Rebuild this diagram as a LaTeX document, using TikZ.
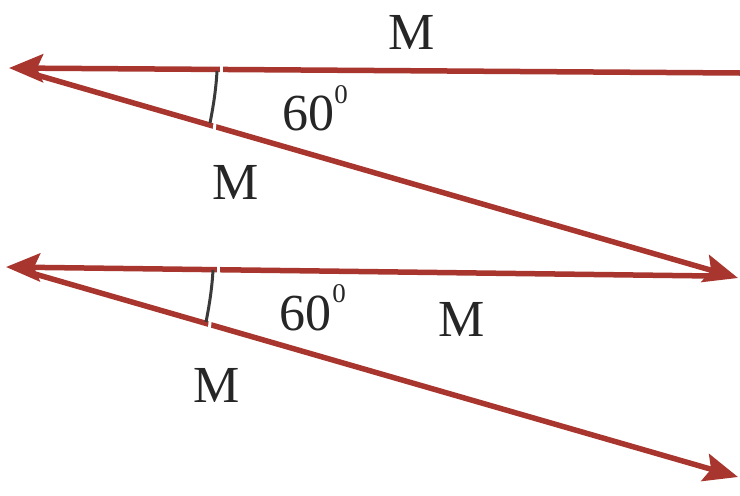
\documentclass[tikz,border=0pt]{standalone}
\usepackage{fontspec}
\setmainfont{Liberation Serif}
\usetikzlibrary{arrows.meta}
\definecolor{vec}{HTML}{A8362E}
\definecolor{arcc}{HTML}{3A3A3A}
\tikzset{
  vecline/.style={draw=vec,line width=5.5pt,-{Stealth[length=34pt,width=28pt,inset=6pt]}},
  anglearc/.style={draw=arcc,line width=3pt},
  lab/.style={font=\fontsize{52}{52}\selectfont,text=black!85,inner sep=0pt},
  sup/.style={font=\fontsize{27}{27}\selectfont,text=black!85,inner sep=0pt}
}
\begin{document}
\begin{tikzpicture}[x=1pt,y=-1pt]
\useasboundingbox (0,0) rectangle (740,496);
% coordinates
\coordinate (r1) at (740,73);
\coordinate (t1) at (9,68);
\coordinate (s1) at (30,73);
\coordinate (h1) at (738,278);
\coordinate (r2) at (712,276);
\coordinate (t2) at (6,267);
\coordinate (s2) at (28,272);
\coordinate (h2) at (738,477);
% vectors
\draw[vecline] (r1) -- (t1);
\draw[vecline] (s1) -- (h1);
\draw[vecline] (r2) -- (t2);
\draw[vecline] (s2) -- (h2);
% gaps near arcs
\draw[white,line width=3pt] (221,64) -- (221,82);
\draw[white,line width=3pt] (216,114) -- (214,132);
\draw[white,line width=3pt] (218,264) -- (218,284);
\draw[white,line width=3pt] (211,313) -- (209,332);
% angle arcs
\coordinate (a1s) at (217,71);
\coordinate (a1e) at (210,123);
\coordinate (a2s) at (213,270);
\coordinate (a2e) at (206,322);
\draw[anglearc] (a1s) .. controls (216,90) and (213,108) .. (a1e);
\draw[anglearc] (a2s) .. controls (212,289) and (209,307) .. (a2e);
% labels
\node[lab] (m1) at (412,32) {M};
\node[lab] (g1) at (308,113) {60};
\node[sup] (d1) at (341,95) {0};
\node[lab] (m2) at (236,182) {M};
\node[lab] (g2) at (305,313) {60};
\node[sup] (d2) at (339,294) {0};
\node[lab] (m3) at (462,319) {M};
\node[lab] (m4) at (217,385) {M};
\end{tikzpicture}
\end{document}
